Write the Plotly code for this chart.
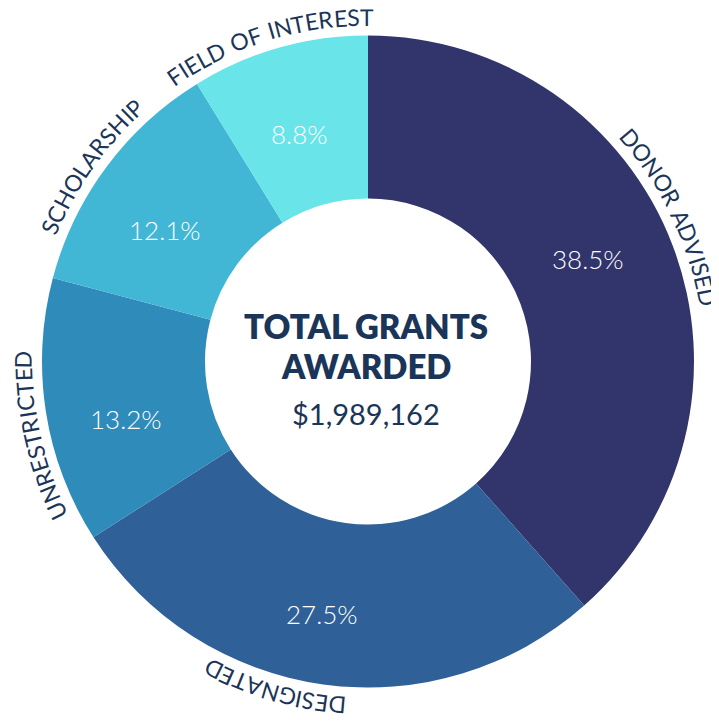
import math
import plotly.graph_objects as go

# ---- data ----
categories = ["DONOR ADVISED", "DESIGNATED", "UNRESTRICTED", "SCHOLARSHIP", "FIELD OF INTEREST"]
shares = [38.5, 27.5, 13.2, 12.1, 8.8]   # percent of total grants
total_awarded = 1989162
center_title = ["TOTAL GRANTS", "AWARDED"]

# ---- style / layout ----
colors = ["#32356b", "#2f6098", "#2e8bba", "#42b7d5", "#69e4e8"]
label_color = "#1b3558"
W, H = 719, 726
PAGE_MARGIN = 8                          # default <body> margin of the html page
CX, CY, R_OUT = 368.0 - PAGE_MARGIN, 361.5 - PAGE_MARGIN, 326.0   # pie centre / radius (figure px)
R_TEXT = 345.0                           # radius of the curved outer labels
LABEL_FONT = 23
TRACK = 0.4
label_shift_deg = [-4.8, 8.0, -3.7, -1.4, -1.3]   # nudge of each outer label along the rim
PCT_R, PCT_DY = 247.0, 10.0              # radius / vertical offset of percentage labels
pct_shift_deg = [-6.2, 2.8, -2.3, -1.7, -0.2]

# approximate Lato advance widths (em) for the outer label letters
ADV = {"A": .68, "B": .65, "C": .67, "D": .75, "E": .57, "F": .55, "G": .73, "H": .77,
       "I": .29, "L": .50, "N": .77, "O": .80, "P": .61, "R": .64, "S": .54, "T": .58,
       "U": .74, "V": .68, " ": .30}


def to_paper(px, py):
    return px / W, 1 - py / H


fig = go.Figure()
fig.add_trace(go.Pie(
    labels=categories,
    values=shares,
    sort=False,
    direction="clockwise",
    rotation=0,
    hole=0.5,
    marker=dict(colors=colors, line=dict(width=0)),
    textinfo="none",
    hovertemplate="%{label}: %{value:.1f}%<extra></extra>",
    showlegend=False,
    domain=dict(x=[(CX - R_OUT) / W, (CX + R_OUT) / W],
                y=[1 - (CY + R_OUT) / H, 1 - (CY - R_OUT) / H]),
))

annotations = []
tot = sum(shares)
cum = 0.0
for cat, v, shift, pshift in zip(categories, shares, label_shift_deg, pct_shift_deg):
    mid_raw = (cum + v / 2) / tot * 360.0
    cum += v

    # percentage label inside the ring
    tp = math.radians(mid_raw + pshift)
    x, y = to_paper(CX + PCT_R * math.sin(tp), CY + PCT_DY - PCT_R * math.cos(tp))
    annotations.append(dict(
        x=x, y=y, xref="paper", yref="paper", text=f"{v:.1f}%", showarrow=False,
        xanchor="center", yanchor="middle",
        font=dict(family="Lato", size=26, color="white", weight=300),
    ))

    # curved category label outside the ring
    mid = mid_raw + shift
    widths = [ADV.get(ch, .6) * LABEL_FONT + TRACK for ch in cat]
    L = sum(widths)
    s = 0.0
    for ch, w in zip(cat, widths):
        sc = s + w / 2
        s += w
        if ch == " ":
            continue
        th = mid + (sc - L / 2) / R_TEXT * 180.0 / math.pi
        t = math.radians(th)
        x, y = to_paper(CX + R_TEXT * math.sin(t), CY - R_TEXT * math.cos(t))
        annotations.append(dict(
            x=x, y=y, xref="paper", yref="paper",
            text=ch, showarrow=False, textangle=th,
            xanchor="center", yanchor="middle",
            height=int(LABEL_FONT * 0.9), borderpad=0,
            font=dict(family="Lato", size=LABEL_FONT, color=label_color),
        ))

# centre text
for txt, py, size, weight in [(center_title[0], 326, 33, 800),
                              (center_title[1], 366, 33, 800),
                              (f"${total_awarded:,}", 413, 29, 400)]:
    x, y = to_paper(366 - PAGE_MARGIN, py - PAGE_MARGIN)
    annotations.append(dict(x=x, y=y, xref="paper", yref="paper", text=txt, showarrow=False,
                            font=dict(family="Lato", size=size, color=label_color, weight=weight)))

fig.update_layout(
    width=W, height=H,
    margin=dict(l=0, r=0, t=0, b=0),
    paper_bgcolor="white", plot_bgcolor="white",
    annotations=annotations,
)
fig.write_html("out.html")
